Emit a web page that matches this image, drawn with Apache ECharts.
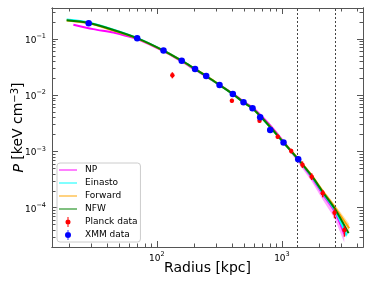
<!DOCTYPE html>
<html><head><meta charset="utf-8">
<script src="https://cdn.jsdelivr.net/npm/echarts@6/dist/echarts.min.js"></script>
<style>html,body{margin:0;padding:0;background:#fff}#c{width:374px;height:288px}</style>
</head><body><div id="c"></div>
<script>
// ---------- data ----------
const xmmR  = [28.5, 69.6, 113, 158, 202, 248, 317, 405, 493, 582, 670, 806, 1030, 1350];
const xmmP  = [0.190, 0.103, 0.0625, 0.0411, 0.0292, 0.0220, 0.0152, 0.01052, 0.00748, 0.00586, 0.00405, 0.00241, 0.00144, 0.000726];
const xmmLo = [0.183, 0.099, 0.060, 0.0395, 0.0281, 0.0211, 0.0146, 0.0101, 0.00718, 0.00562, 0.00385, 0.00212, 0.00137, 0.00069];
const xmmHi = [0.197, 0.107, 0.065, 0.0427, 0.0303, 0.0229, 0.0158, 0.0109, 0.00778, 0.0061, 0.00425, 0.0026, 0.00151, 0.00076];

const planckR  = [133, 398, 662, 925, 1186, 1459, 1730, 2120, 2635, 3162];
const planckP  = [0.0226, 0.00796, 0.00352, 0.00183, 0.00102, 0.000582, 0.000356, 0.000180, 8.15e-5, 4.01e-5];
const planckLo = [0.0200, 0.00734, 0.00322, 0.00167, 0.00092, 0.000508, 0.000311, 0.000153, 6.47e-5, 3.05e-5];
const planckHi = [0.0256, 0.00864, 0.00385, 0.00200, 0.00112, 0.000666, 0.000408, 0.000207, 9.75e-5, 4.72e-5];

const npR = [21.5, 31, 45, 57.5, 70, 113, 158, 202, 248, 317, 405, 493, 582, 670, 806, 1030, 1350, 1725, 2113, 2635, 3150];
const npP = [0.180, 0.150, 0.130, 0.113, 0.100, 0.0610, 0.0398, 0.0284, 0.0215, 0.0152, 0.0107, 0.0077, 0.0061, 0.0045, 0.0029, 0.00150, 0.00071, 0.00035, 0.000175, 8.6e-5, 3.4e-5];

const einR = [19, 28.5, 45, 70, 113, 158, 202, 248, 317, 405, 493, 582, 670, 806, 1030, 1350, 1725, 2113, 2635, 3300];
const einP = [0.222, 0.196, 0.147, 0.1035, 0.0625, 0.0411, 0.0292, 0.0219, 0.0152, 0.0105, 0.00746, 0.00578, 0.00424, 0.00270, 0.001435, 0.000718, 0.000362, 0.000184, 9.2e-5, 3.2e-5];

const fwdR = [19, 28.5, 45, 70, 113, 158, 202, 248, 317, 405, 493, 582, 670, 806, 1030, 1350, 1725, 2113, 2635, 3450];
const fwdP = [0.213, 0.190, 0.141, 0.1015, 0.0618, 0.0409, 0.0293, 0.0221, 0.0153, 0.01055, 0.0075, 0.00583, 0.0043, 0.00275, 0.00146, 0.000735, 0.000378, 0.000199, 0.000103, 4.3e-5];

const nfwR = [19, 28.5, 45, 70, 113, 158, 202, 248, 317, 405, 493, 582, 670, 806, 1030, 1350, 1725, 2113, 2635, 3411];
const nfwP = [0.215, 0.1925, 0.145, 0.1029, 0.0624, 0.0411, 0.0293, 0.0220, 0.0152, 0.01052, 0.00748, 0.00581, 0.00427, 0.00272, 0.001443, 0.000725, 0.000371, 0.0001925, 9.75e-5, 3.5e-5];

// uncertainty bands (r, lower, upper)
const npBandR  = [900, 1030, 1350, 1725, 2113, 2635, 3150];
const npBandLo = [0.0021, 0.00138, 0.000625, 0.000294, 0.00014, 6.5e-5, 2.4e-5];
const npBandHi = [0.0023, 0.00156, 0.000746, 0.000371, 0.000187, 9.3e-5, 3.7e-5];
const einBandR  = [900, 1030, 1350, 1725, 2113, 2635, 3300];
const einBandLo = [0.00195, 0.00137, 0.00068, 0.00034, 0.000171, 8.4e-5, 2.85e-5];
const einBandHi = [0.00211, 0.0015, 0.000757, 0.000385, 0.000198, 1.0e-4, 3.6e-5];
const fwdBandR  = [1350, 1725, 2113, 2635, 3450];
const fwdBandLo = [0.00072, 0.00036, 0.000186, 9.4e-5, 3.7e-5];
const fwdBandHi = [0.00076, 0.0004, 0.000215, 0.000115, 5.2e-5];

const r500Lines = [1330, 2660];

const xMajorTicks = [100, 1000];
const xMinorTicks = [20,30,40,50,60,70,80,90,200,300,400,500,600,700,800,900,2000,3000,4000];
const yMajorTicks = [1e-4, 1e-3, 1e-2, 1e-1];
const yMinorTicks = [3e-5,4e-5,5e-5,6e-5,7e-5,8e-5,9e-5,
  2e-4,3e-4,4e-4,5e-4,6e-4,7e-4,8e-4,9e-4,
  2e-3,3e-3,4e-3,5e-3,6e-3,7e-3,8e-3,9e-3,
  2e-2,3e-2,4e-2,5e-2,6e-2,7e-2,8e-2,9e-2,
  2e-1,3e-1];

const xRange = [14.5, 4450];
const yRange = [2.0e-5, 0.356];

// ---------- chart ----------
const FONT = 'DejaVu Sans';
const AX = '#555';
const zip = (a, b) => a.map((v, i) => [v, b[i]]);
const zip3 = (a, b, c) => a.map((v, i) => [v, b[i], c[i]]);

function powLabel(v) {
  const e = Math.round(Math.log10(v));
  return '{b|10}{s|' + String(e).replace('-', '\u2212') + '}';
}
const labelRich = {
  b: {fontSize: 9, fontFamily: FONT, color: '#000', verticalAlign: 'bottom', lineHeight: 12},
  s: {fontSize: 6.5, fontFamily: FONT, color: '#000', verticalAlign: 'top', lineHeight: 12}
};

function xAx(pos, major, showLabel, extra) {
  return Object.assign({
    type: 'log', position: pos, min: xRange[0], max: xRange[1], logBase: 10,
    axisLine: {show: true, lineStyle: {color: AX, width: 1}},
    axisTick: {show: true, inside: true, length: major ? 6 : 3.5, customValues: major ? xMajorTicks : xMinorTicks, lineStyle: {color: AX, width: 1}},
    axisLabel: {show: showLabel, customValues: xMajorTicks, formatter: powLabel, rich: labelRich, margin: 4},
    splitLine: {show: false}, minorTick: {show: false}
  }, extra || {});
}
function yAx(pos, major, showLabel, extra) {
  return Object.assign({
    type: 'log', position: pos, min: yRange[0], max: yRange[1], logBase: 10,
    axisLine: {show: true, lineStyle: {color: AX, width: 1}},
    axisTick: {show: true, inside: true, length: major ? 6 : 3.5, customValues: major ? yMajorTicks : yMinorTicks, lineStyle: {color: AX, width: 1}},
    axisLabel: {show: showLabel, customValues: yMajorTicks, formatter: powLabel, rich: labelRich, margin: 6},
    splitLine: {show: false}, minorTick: {show: false}
  }, extra || {});
}

function lineSeries(name, color, R, P, z) {
  return {type: 'line', name, data: zip(R, P), symbol: 'none', smooth: 0.3,
    lineStyle: {color, width: 2}, itemStyle: {color}, z, silent: true, animation: false};
}
function bandSeries(name, color, R, lo, hi) {
  const rows = zip3(R, lo, hi);
  return {type: 'custom', name, data: rows, encode: {x: 0, y: [1, 2]}, z: 1, silent: true, clip: true,
    renderItem: function (params, api) {
      if (params.dataIndex !== 0) return null;
      const up = rows.map(d => api.coord([d[0], d[2]]));
      const dn = rows.map(d => api.coord([d[0], d[1]])).reverse();
      return {type: 'polygon', shape: {points: up.concat(dn)}, style: {fill: color, opacity: 0.35}};
    }};
}
function errSeries(name, color, w, R, lo, hi, z) {
  return {type: 'custom', name, data: zip3(R, lo, hi), encode: {x: 0, y: [1, 2]}, z, silent: true,
    renderItem: function (params, api) {
      const p1 = api.coord([api.value(0), api.value(1)]);
      const p2 = api.coord([api.value(0), api.value(2)]);
      return {type: 'line', shape: {x1: p1[0], y1: p1[1], x2: p2[0], y2: p2[1]}, style: {stroke: color, lineWidth: w}};
    }};
}

const lineIcon = 'path://M0,4H18V6H0Z';
const option = {
  animation: false,
  backgroundColor: '#fff',
  textStyle: {fontFamily: FONT},
  grid: {left: 52, right: 11, top: 8, bottom: 41, containLabel: false, outerBoundsMode: 'none'},
  xAxis: [
    xAx('bottom', true, true, {name: 'Radius [kpc]', nameLocation: 'middle', nameGap: 14, nameMoveOverlap: false,
      nameTextStyle: {fontSize: 14, fontFamily: FONT, color: '#000', verticalAlign: 'top'}}),
    xAx('bottom', false, false),
    xAx('top', true, false),
    xAx('top', false, false)
  ],
  yAxis: [
    yAx('left', true, true, {name: '{i|P} [keV cm{s|\u22123}]', nameLocation: 'middle', nameGap: 26, nameMoveOverlap: false,
      nameTextStyle: {fontSize: 14, fontFamily: FONT, color: '#000', verticalAlign: 'bottom', lineHeight: 16,
        rich: {i: {fontStyle: 'italic', fontSize: 14, fontFamily: FONT, lineHeight: 16, verticalAlign: 'bottom'},
               s: {fontSize: 10, fontFamily: FONT, verticalAlign: 'top', lineHeight: 16}}}}),
    yAx('left', false, false),
    yAx('right', true, false),
    yAx('right', false, false)
  ],
  legend: {
    orient: 'vertical', left: 57, top: 163, padding: [2, 3, 2, 2],
    itemWidth: 18, itemHeight: 10, itemGap: 3,
    backgroundColor: 'rgba(255,255,255,0.8)', borderColor: '#ccc', borderWidth: 1, borderRadius: 3,
    textStyle: {fontSize: 9, fontFamily: FONT, color: '#000', lineHeight: 10, padding: [0, 0, 0, 3]},
    data: [
      {name: 'NP', icon: lineIcon, itemStyle: {color: '#ff80ff'}},
      {name: 'Einasto', icon: lineIcon, itemStyle: {color: '#80ffff'}},
      {name: 'Forward', icon: lineIcon, itemStyle: {color: '#ffd280'}},
      {name: 'NFW', icon: lineIcon, itemStyle: {color: '#80c080'}},
      {name: 'Planck data', icon: 'path://M4.6,1H5.4V9H4.6Z M3,5A2,2 0 1,1 7,5A2,2 0 1,1 3,5Z', itemStyle: {color: '#ff0000'}},
      {name: 'XMM data', icon: 'path://M4.6,0H5.4V10H4.6Z M2,5A3,3 0 1,1 8,5A3,3 0 1,1 2,5Z', itemStyle: {color: '#0000ff'}}
    ]
  },
  series: [
    bandSeries('NP band', '#ff00ff', npBandR, npBandLo, npBandHi),
    bandSeries('Einasto band', '#00ffff', einBandR, einBandLo, einBandHi),
    bandSeries('Forward band', '#ffa500', fwdBandR, fwdBandLo, fwdBandHi),
    Object.assign(lineSeries('NP', '#ff00ff', npR, npP, 2), {
      markLine: {silent: true, symbol: 'none', label: {show: false},
        lineStyle: {color: '#444', type: [2, 2], width: 1},
        data: r500Lines.map(v => ({xAxis: v}))}
    }),
    lineSeries('Einasto', '#00ffff', einR, einP, 3),
    lineSeries('Forward', '#ffa500', fwdR, fwdP, 4),
    lineSeries('NFW', '#008000', nfwR, nfwP, 5),
    errSeries('Planck err', '#ff0000', 1.5, planckR, planckLo, planckHi, 6),
    {type: 'scatter', name: 'Planck data', data: zip(planckR, planckP), symbol: 'circle', symbolSize: 4.5,
      itemStyle: {color: '#ff0000', opacity: 1}, z: 7, silent: true},
    errSeries('XMM err', '#0000ff', 1.5, xmmR, xmmLo, xmmHi, 8),
    {type: 'scatter', name: 'XMM data', data: zip(xmmR, xmmP), symbol: 'circle', symbolSize: 6.5,
      itemStyle: {color: '#0000ff', opacity: 1}, z: 9, silent: true}
  ]
};
const chart = echarts.init(document.getElementById('c'), null, {renderer: 'canvas'});
chart.setOption(option);
</script></body></html>
